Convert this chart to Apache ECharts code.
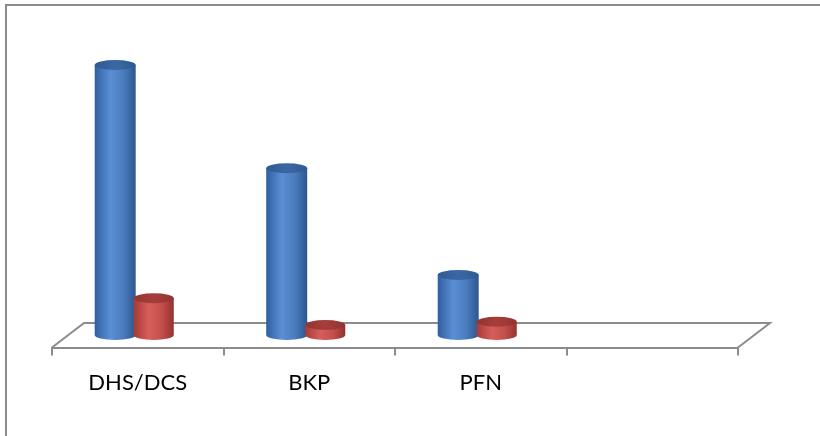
<!DOCTYPE html>
<html>
<head>
<meta charset="utf-8">
<script src="https://cdn.jsdelivr.net/npm/echarts@6/dist/echarts.min.js"></script>
<style>
  html, body { margin: 0; padding: 0; background: #fff; }
  #chart { width: 820px; height: 436px; }
</style>
</head>
<body>
<div id="chart"></div>
<script>
// Categories and the two series of values
const categories = ['DHS/DCS', 'BKP', 'PFN', ''];
const blueValues = [81, 50, 18];
const redValues = [11, 3, 4];

const chart = echarts.init(document.getElementById('chart'), null, { renderer: 'canvas' });

const FLOOR_DX = 32;      // depth offset of the floor, x
const FLOOR_DY = -24.5;   // depth offset of the floor, y
const AXIS_OFFSET = 12.5; // front edge of the floor below the bar bases
const RY = 5;             // vertical radius of cylinder ellipses

function cylinderRenderer(offL, offR, bodyStops, topStops) {
  return function (params, api) {
    const cat = api.value(0);
    const val = api.value(1);
    const base = api.coord([cat, 0]);
    const top = api.coord([cat, val]);
    const bw = api.size([1, 0])[0];
    const xl = base[0] + bw * offL;
    const xr = base[0] + bw * offR;
    const rx = (xr - xl) / 2;
    const by = base[1];
    const ty = top[1];
    const body = 'M' + xl + ',' + ty + ' L' + xl + ',' + by +
      ' A' + rx + ',' + RY + ' 0 0 0 ' + xr + ',' + by +
      ' L' + xr + ',' + ty + ' Z';
    const cap = 'M' + xl + ',' + ty +
      ' A' + rx + ',' + RY + ' 0 1 0 ' + xr + ',' + ty +
      ' A' + rx + ',' + RY + ' 0 1 0 ' + xl + ',' + ty + ' Z';
    return {
      type: 'group',
      children: [
        {
          type: 'path',
          shape: { pathData: body },
          style: { fill: new echarts.graphic.LinearGradient(0, 0, 1, 0, bodyStops) }
        },
        {
          type: 'path',
          shape: { pathData: cap },
          style: { fill: new echarts.graphic.LinearGradient(0, 0, 1, 0, topStops) }
        }
      ]
    };
  };
}

const blueBody = [
  { offset: 0, color: '#2f5f9f' },
  { offset: 0.38, color: '#5a8fd5' },
  { offset: 0.7, color: '#4a7cbd' },
  { offset: 1, color: '#2c5790' }
];
const blueTop = [
  { offset: 0, color: '#2f5a92' },
  { offset: 0.5, color: '#3b68a4' },
  { offset: 1, color: '#2f5a92' }
];
const redBody = [
  { offset: 0, color: '#a83a37' },
  { offset: 0.38, color: '#d65e5a' },
  { offset: 0.7, color: '#c24f4b' },
  { offset: 1, color: '#953130' }
];
const redTop = [
  { offset: 0, color: '#943432' },
  { offset: 0.5, color: '#a63e3b' },
  { offset: 1, color: '#943432' }
];

// Floor outline: back edge and the two side edges (front edge is the x axis line)
function floorRenderer(params, api) {
  const first = api.coord([0, 0]);
  const last = api.coord([categories.length - 1, 0]);
  const bw = api.size([1, 0])[0];
  const y = first[1] + AXIS_OFFSET;
  const x0 = first[0] - bw / 2;
  const x1 = last[0] + bw / 2;
  return {
    type: 'polyline',
    shape: {
      points: [
        [x0, y],
        [x0 + FLOOR_DX, y + FLOOR_DY],
        [x1 + FLOOR_DX, y + FLOOR_DY],
        [x1, y]
      ]
    },
    style: { stroke: '#8c8c8c', lineWidth: 2, fill: null }
  };
}

chart.setOption({
  animation: false,
  backgroundColor: '#ffffff',
  grid: { left: 52, right: 82, top: 35, bottom: 101, containLabel: false },
  xAxis: {
    type: 'category',
    data: categories,
    boundaryGap: true,
    offset: AXIS_OFFSET,
    axisLine: { show: true, onZero: false, lineStyle: { color: '#8c8c8c', width: 2 } },
    axisTick: {
      show: true,
      interval: 0,
      alignWithLabel: false,
      inside: false,
      length: 8,
      lineStyle: { color: '#8c8c8c', width: 2 }
    },
    axisLabel: {
      interval: 0,
      margin: 24,
      fontFamily: 'Lato',
      fontSize: 22,
      color: '#000000'
    },
    splitLine: { show: false }
  },
  yAxis: { type: 'value', min: 0, max: 90, show: false },
  graphic: [
    {
      type: 'polyline',
      shape: { points: [[6, 436], [6, 5], [820, 5]] },
      style: { stroke: '#8c8c8c', lineWidth: 2, fill: null },
      silent: true
    }
  ],
  series: [
    {
      type: 'custom',
      z: 1,
      data: [[0, 0]],
      renderItem: floorRenderer,
      silent: true
    },
    {
      type: 'custom',
      z: 2,
      data: blueValues.map((v, i) => [i, v]),
      renderItem: cylinderRenderer(-0.251, -0.012, blueBody, blueTop)
    },
    {
      type: 'custom',
      z: 3,
      data: redValues.map((v, i) => [i, v]),
      renderItem: cylinderRenderer(-0.023, 0.21, redBody, redTop)
    }
  ]
});
</script>
</body>
</html>
